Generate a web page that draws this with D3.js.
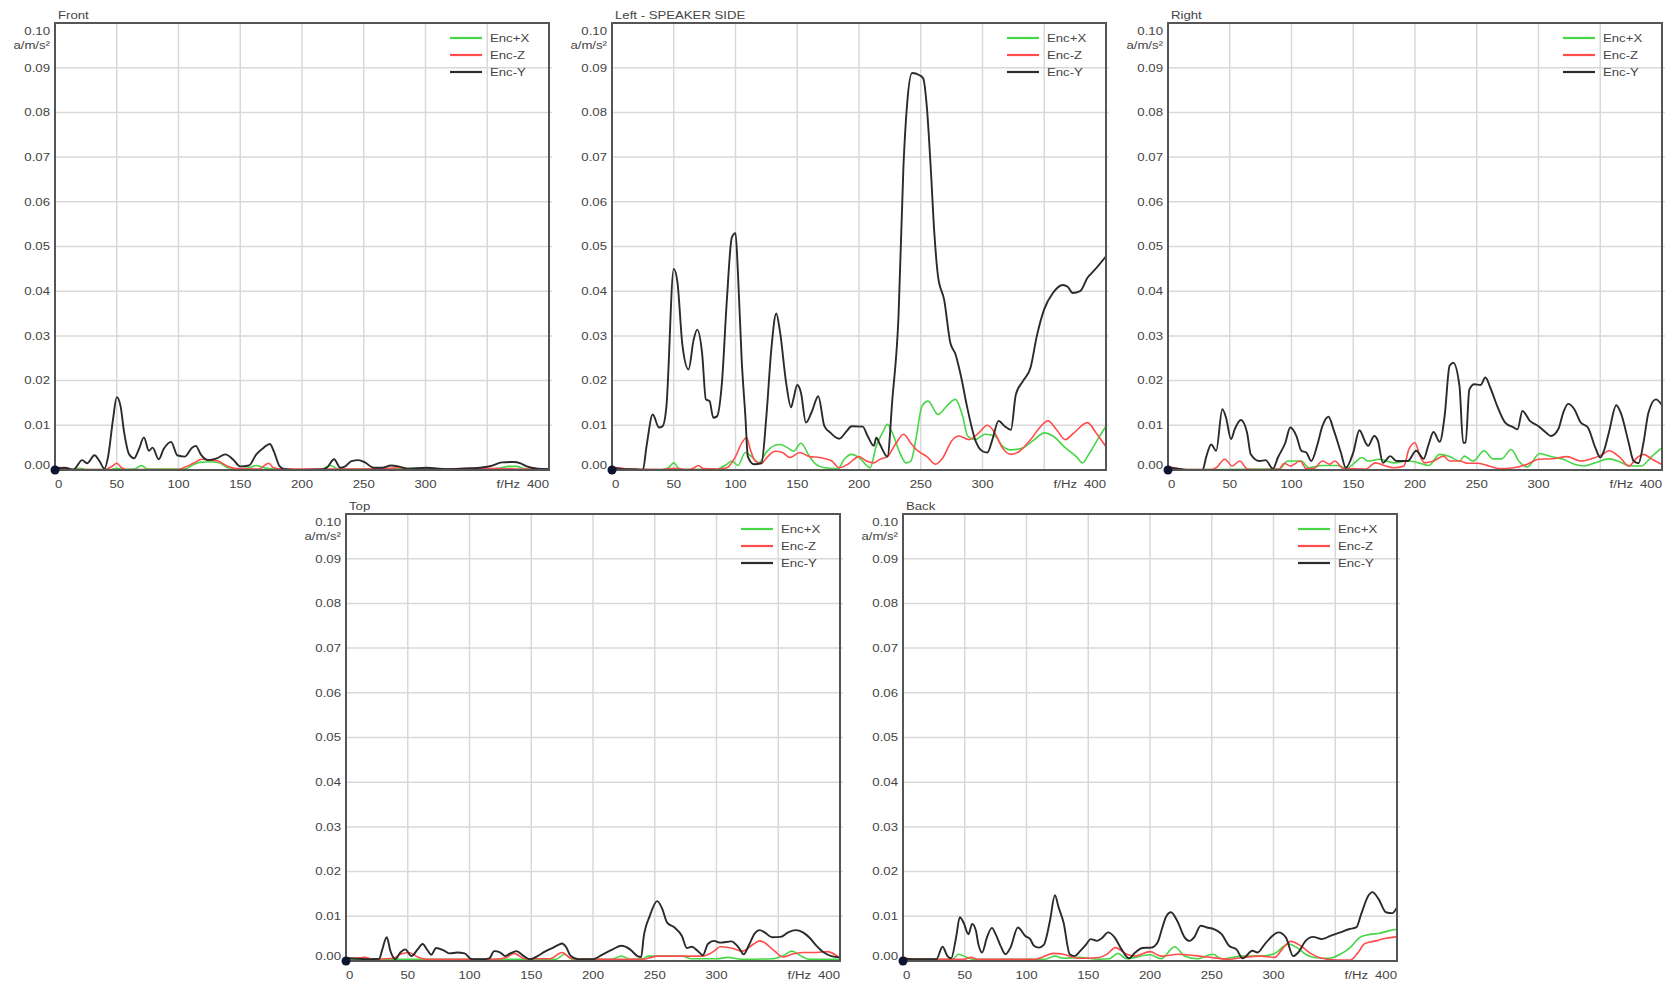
<!DOCTYPE html>
<html>
<head>
<meta charset="utf-8">
<script src="https://cdn.jsdelivr.net/npm/d3@7"></script>
<style>
  body { margin: 0; background: #fff; }
  svg text { font-family: "Liberation Sans", Arial, sans-serif; font-size: 11px; fill: #444; }
</style>
</head>
<body>
<div id="chart"></div>
<script>
// axis values
const xTickLabels = [0, 50, 100, 150, 200, 250, 300]
const xGrid = [50, 100, 150, 200, 250, 300, 350]
const yTicks = [0, 0.01, 0.02, 0.03, 0.04, 0.05, 0.06, 0.07, 0.08, 0.09, 0.10]
const seriesNames = ['Enc+X', 'Enc-Z', 'Enc-Y']
const seriesColors = ['#46d646', '#ff4d4d', '#2b2b2b']

// [f/Hz, a] pairs
const frontX = [[0,0.0002],[15,0.0001],[20,0.0004],[25,0.0001],[45,0.0001],[50,0.0004],[55,0.0001],[64,0.0002],[70,0.001],[75,0.0002],[105,0.0002],[110,0.0009],[117,0.0017],[122,0.0018],[128,0.0018],[134,0.0015],[140,0.0005],[150,0.0003],[157,0.0005],[163,0.001],[169,0.0005],[175,0.0003],[185,0.0001],[215,0.0001],[223,0.001],[230,0.0002],[260,0.0002],[300,0.0003],[340,0.0002],[360,0.0004],[367,0.0008],[374,0.0008],[380,0.0003],[400,0.0002]]
const frontZ = [[0,0.0006],[5,0.0005],[12,0.0001],[40,0.0001],[46,0.0008],[50,0.0015],[54,0.0005],[58,0.0001],[100,0.0001],[104,0.0005],[112,0.0015],[119,0.0024],[127,0.0022],[132,0.002],[140,0.0008],[146,0.0003],[165,0.0002],[173,0.0015],[177,0.0005],[185,0.0002],[195,0.0002],[230,0.0002],[270,0.0004],[280,0.0005],[290,0.0002],[320,0.0002],[335,0.0004],[345,0.0004],[360,0.0003],[380,0.0002],[400,0.0002]]
const frontY = [[0,0.0004],[8,0.0005],[15,0.0001],[22,0.0022],[26,0.0015],[32,0.0033],[36,0.002],[40,0.0003],[43,0.003],[47,0.0114],[50,0.0163],[53,0.0144],[56,0.0084],[60,0.0035],[64,0.0026],[68,0.0047],[72,0.0073],[76,0.0043],[79,0.005],[84,0.0024],[88,0.0047],[94,0.0063],[99,0.0033],[105,0.003],[111,0.005],[114,0.0054],[118,0.0035],[124,0.0022],[131,0.0026],[138,0.0035],[144,0.0024],[150,0.0008],[157,0.001],[163,0.0035],[169,0.005],[174,0.0058],[177,0.0043],[182,0.0008],[186,0.0002],[200,0],[215,0.0001],[220,0.0005],[226,0.0024],[231,0.0005],[235,0.0008],[240,0.002],[246,0.0022],[251,0.0017],[258,0.0005],[265,0.0005],[272,0.001],[278,0.0008],[285,0.0003],[301,0.0005],[316,0.0002],[330,0.0003],[344,0.0005],[353,0.0009],[362,0.0017],[371,0.0018],[377,0.0015],[382,0.0008],[391,0.0003],[400,0.0002]]

const leftX = [[0,0.0003],[10,0.0002],[20,0.0001],[40,0.0001],[46,0.0006],[50,0.0016],[54,0.0004],[60,0.0001],[85,0.0002],[93,0.0013],[97,0.002],[102,0.001],[108,0.0039],[113,0.003],[119,0.0016],[125,0.004],[131,0.0054],[136,0.0057],[142,0.005],[147,0.0042],[153,0.006],[160,0.003],[165,0.0013],[172,0.0005],[183,0.0003],[188,0.0024],[194,0.0035],[200,0.0028],[209,0.0005],[214,0.0054],[219,0.0083],[223,0.0102],[227,0.0083],[233,0.0039],[238,0.0016],[242,0.002],[246,0.0068],[251,0.0143],[256,0.0154],[264,0.0124],[271,0.0143],[278,0.0158],[284,0.012],[288,0.0076],[294,0.0068],[302,0.008],[310,0.0076],[316,0.0054],[323,0.0045],[333,0.005],[342,0.0068],[350,0.0083],[357,0.0076],[367,0.005],[376,0.003],[381,0.0016],[386,0.0035],[394,0.0072],[400,0.0098]]
const leftZ = [[0,0.0006],[5,0.0005],[12,0.0002],[40,0.0001],[50,0.0004],[60,0.0001],[66,0.0004],[70,0.001],[74,0.0003],[85,0.0002],[93,0.0005],[100,0.003],[105,0.006],[109,0.0072],[112,0.0046],[116,0.002],[121,0.0015],[126,0.003],[132,0.0042],[138,0.0039],[144,0.0028],[152,0.0039],[160,0.003],[168,0.0028],[178,0.002],[184,0.0005],[191,0.0013],[200,0.003],[206,0.002],[212,0.0016],[217,0.0024],[223,0.003],[230,0.006],[236,0.008],[242,0.006],[248,0.0042],[255,0.003],[262,0.0013],[268,0.0028],[275,0.0065],[281,0.0076],[289,0.0068],[297,0.0083],[304,0.01],[310,0.0083],[316,0.005],[323,0.0035],[330,0.0042],[339,0.0068],[346,0.0094],[353,0.011],[360,0.009],[367,0.0068],[374,0.0083],[385,0.0106],[392,0.0083],[400,0.0052]]
const leftY = [[0,0.0004],[10,0.0002],[20,0.0001],[25,0],[28,0.0054],[33,0.0124],[38,0.0095],[41,0.0098],[44,0.014],[50,0.045],[53,0.042],[57,0.028],[62,0.0225],[66,0.029],[69,0.0314],[73,0.026],[76,0.0158],[79,0.0154],[82,0.0117],[85,0.012],[89,0.0195],[93,0.038],[97,0.052],[100,0.053],[102,0.044],[105,0.0247],[108,0.012],[110,0.003],[115,0.0013],[121,0.0015],[125,0.012],[129,0.027],[133,0.035],[136,0.031],[141,0.0195],[145,0.014],[147,0.016],[150,0.019],[153,0.0173],[157,0.0106],[162,0.0132],[167,0.0165],[172,0.0098],[177,0.0083],[184,0.007],[190,0.0087],[194,0.0098],[203,0.0097],[207,0.0076],[212,0.0054],[214,0.0072],[217,0.0057],[223,0.003],[227,0.0158],[232,0.0344],[236,0.068],[239,0.082],[243,0.0888],[249,0.0883],[252,0.0876],[255,0.081],[258,0.068],[261,0.053],[264,0.0433],[269,0.038],[274,0.0284],[278,0.026],[282,0.0217],[288,0.0135],[294,0.0068],[300,0.0042],[304,0.0039],[308,0.0068],[313,0.011],[318,0.0098],[323,0.009],[327,0.0169],[333,0.02],[339,0.023],[344,0.03],[350,0.036],[357,0.0396],[365,0.0414],[369,0.041],[373,0.0396],[379,0.04],[385,0.043],[391,0.0448],[400,0.0478]]

const rightX = [[0,0.0002],[20,0.0001],[90,0.0002],[97,0.002],[102,0.002],[108,0.002],[114,0.0005],[125,0.001],[137,0.001],[145,0.0004],[151,0.0016],[157,0.0028],[162,0.002],[171,0.0024],[183,0.0016],[194,0.002],[203,0.0016],[211,0.001],[220,0.0035],[228,0.003],[236,0.002],[240,0.0031],[247,0.002],[256,0.0043],[263,0.0025],[270,0.0025],[278,0.0046],[284,0.002],[291,0.0007],[301,0.0037],[310,0.003],[320,0.0024],[329,0.0013],[337,0.0009],[346,0.0016],[357,0.0025],[366,0.0018],[374,0.0009],[383,0.0009],[392,0.0031],[400,0.005]]
const rightZ = [[0,0.0007],[5,0.0005],[12,0.0001],[35,0.0001],[39,0.0005],[46,0.0024],[52,0.0009],[58,0.002],[64,0.0003],[70,0.0001],[90,0.0002],[94,0.0015],[99,0.0009],[107,0.002],[112,0.0003],[118,0.0003],[125,0.002],[131,0.0013],[135,0.002],[142,0.0003],[160,0.0002],[168,0.0016],[175,0.001],[183,0.0005],[191,0.0009],[195,0.0046],[200,0.0061],[204,0.0031],[208,0.0016],[215,0.002],[223,0.0031],[228,0.002],[236,0.002],[243,0.0015],[251,0.0015],[260,0.0009],[268,0.0003],[280,0.0005],[291,0.0013],[300,0.0024],[311,0.0025],[323,0.003],[334,0.002],[343,0.0025],[352,0.0035],[357,0.0043],[366,0.0028],[373,0.0009],[380,0.0028],[385,0.0035],[392,0.0024],[400,0.0012]]
const rightY = [[0,0.0005],[8,0.0003],[15,0],[28,0],[31,0.003],[35,0.0057],[39,0.0043],[44,0.0136],[47,0.0117],[51,0.0069],[54,0.0091],[59,0.0112],[64,0.0084],[67,0.0035],[74,0.002],[79,0.0022],[85,0.0003],[89,0.0028],[95,0.0061],[99,0.0095],[104,0.0076],[108,0.0043],[112,0.0039],[116,0.002],[121,0.0057],[125,0.0098],[130,0.0119],[134,0.0091],[140,0.0039],[144,0.0005],[150,0.0039],[155,0.0089],[160,0.0061],[162,0.0054],[167,0.0076],[170,0.0065],[174,0.0016],[180,0.0031],[185,0.002],[194,0.002],[201,0.0043],[207,0.0025],[211,0.0057],[215,0.0085],[220,0.0063],[224,0.0121],[228,0.0233],[231,0.024],[236,0.0188],[239,0.0061],[241,0.0061],[244,0.018],[248,0.0192],[253,0.019],[257,0.0207],[261,0.0184],[267,0.014],[273,0.0106],[280,0.0095],[283,0.0091],[287,0.0132],[293,0.011],[300,0.0098],[306,0.0084],[310,0.0076],[316,0.0091],[320,0.0128],[324,0.0148],[329,0.0136],[334,0.0107],[340,0.0095],[346,0.005],[350,0.0028],[353,0.0043],[357,0.0084],[363,0.0145],[367,0.0125],[373,0.0061],[377,0.002],[381,0.0015],[385,0.0061],[389,0.0128],[395,0.0158],[400,0.0145]]

const topX = [[0,0.0004],[170,0.0004],[177,0.0015],[183,0.0004],[215,0.0004],[223,0.0011],[230,0.0004],[240,0.0005],[245,0.0011],[272,0.0011],[280,0.0005],[300,0.0005],[309,0.0008],[320,0.0004],[345,0.0005],[354,0.0012],[361,0.0022],[368,0.0012],[375,0.0004],[400,0.0004]]
const topZ = [[0,0.0008],[8,0.0006],[15,0.0008],[22,0.0004],[38,0.0006],[44,0.0015],[51,0.0019],[58,0.0009],[65,0.0004],[120,0.0004],[130,0.0008],[136,0.0017],[145,0.0005],[165,0.0005],[175,0.0019],[182,0.0006],[190,0.0004],[240,0.0004],[252,0.0011],[272,0.0011],[289,0.0011],[298,0.0022],[303,0.0032],[312,0.0029],[321,0.0022],[330,0.0038],[335,0.0045],[339,0.0041],[347,0.0022],[354,0.0009],[361,0.0015],[370,0.0019],[381,0.0019],[390,0.0021],[400,0.0006]]
const topY = [[0,0.0006],[10,0.0005],[20,0.0004],[27,0.0005],[29,0.0022],[33,0.0053],[36,0.0022],[40,0.0004],[44,0.0019],[48,0.0026],[53,0.0011],[58,0.0026],[62,0.0038],[66,0.0024],[69,0.0014],[73,0.0029],[79,0.0024],[84,0.0017],[90,0.0019],[96,0.0017],[102,0.0004],[110,0.0004],[116,0.0006],[120,0.0022],[125,0.0019],[129,0.0011],[133,0.0017],[138,0.0022],[144,0.0011],[149,0.0004],[155,0.0011],[161,0.0021],[167,0.0029],[172,0.0036],[175,0.0039],[178,0.0032],[182,0.0011],[188,0.0004],[200,0.0004],[208,0.0015],[216,0.0026],[223,0.0034],[230,0.0026],[236,0.0011],[239,0.0009],[241,0.0053],[246,0.0101],[252,0.0134],[256,0.0117],[260,0.0086],[266,0.0075],[272,0.0056],[276,0.0029],[280,0.0032],[285,0.0022],[289,0.0013],[293,0.0038],[298,0.0045],[303,0.0041],[312,0.0044],[318,0.003],[322,0.0015],[326,0.0034],[331,0.0062],[335,0.0069],[339,0.0064],[345,0.0053],[352,0.0054],[358,0.0064],[364,0.0069],[370,0.0064],[375,0.0053],[381,0.0034],[387,0.0019],[393,0.0011],[400,0.0008]]

const backX = [[0,0.0004],[40,0.0004],[45,0.0015],[51,0.0009],[56,0.0004],[115,0.0004],[123,0.0011],[130,0.0006],[142,0.0008],[159,0.0004],[167,0.0005],[174,0.0017],[181,0.0005],[200,0.0014],[209,0.0005],[220,0.0032],[228,0.0011],[238,0.0005],[251,0.0015],[258,0.0005],[275,0.0011],[290,0.0011],[301,0.0017],[312,0.0038],[319,0.003],[326,0.0015],[333,0.0008],[345,0.0006],[354,0.0015],[362,0.003],[370,0.0053],[377,0.0059],[386,0.0062],[394,0.0068],[400,0.0071]]
const backZ = [[0,0.0009],[8,0.0004],[50,0.0004],[55,0.0008],[60,0.0004],[107,0.0004],[122,0.0017],[130,0.0015],[142,0.0006],[159,0.0008],[165,0.0015],[172,0.003],[180,0.0017],[188,0.0011],[200,0.0021],[209,0.0011],[223,0.0015],[246,0.0009],[264,0.0004],[275,0.0008],[290,0.0011],[301,0.0008],[307,0.0026],[314,0.0044],[322,0.0034],[330,0.0017],[339,0.0006],[351,0.0002],[362,0.0002],[368,0.0017],[374,0.0039],[383,0.0045],[391,0.0051],[400,0.0054]]
const backY = [[0,0.0005],[10,0.0004],[27,0.0004],[32,0.0032],[36,0.0011],[39,0.0006],[43,0.0053],[46,0.0098],[49,0.0086],[53,0.006],[56,0.0083],[59,0.0068],[61,0.0038],[64,0.0019],[68,0.0053],[72,0.0074],[75,0.006],[79,0.0034],[83,0.0015],[87,0.003],[93,0.0075],[99,0.0056],[103,0.0049],[106,0.0034],[110,0.003],[114,0.0036],[119,0.009],[123,0.0147],[126,0.012],[130,0.0086],[135,0.0015],[139,0.0011],[143,0.0021],[148,0.0036],[152,0.0049],[157,0.0045],[161,0.0051],[166,0.0064],[171,0.0054],[177,0.0026],[183,0.0006],[188,0.0019],[194,0.0029],[201,0.003],[206,0.0041],[210,0.0075],[213,0.0099],[217,0.0109],[222,0.009],[228,0.0053],[232,0.0045],[236,0.0054],[241,0.0079],[246,0.0075],[252,0.0071],[258,0.006],[264,0.0034],[270,0.0026],[275,0.0006],[283,0.0023],[287,0.0019],[293,0.0038],[299,0.0056],[304,0.0064],[310,0.0053],[316,0.0011],[320,0.0019],[326,0.0045],[332,0.0054],[339,0.0049],[346,0.0056],[354,0.0064],[361,0.0071],[367,0.0075],[371,0.0105],[377,0.0147],[380,0.0154],[385,0.0139],[391,0.0109],[396,0.0107],[400,0.012]]

const panelTitles = ['Front', 'Left - SPEAKER SIDE', 'Right', 'Top', 'Back']
const panelSeries = [
    [frontX, frontZ, frontY],
    [leftX, leftZ, leftY],
    [rightX, rightZ, rightY],
    [topX, topZ, topY],
    [backX, backZ, backY]
]

// layout
const width = 1667
const height = 984
const panelW = 494
const panelH = 447
const panelPos = [[55, 23], [612, 23], [1168, 23], [346, 514], [903, 514]]
const textStretch = 1.2

const xScale = d3.scaleLinear().domain([0, 400]).range([0, panelW])
const yScale = d3.scaleLinear().domain([0, 0.1]).range([panelH, 0])

const lineGen = d3.line()
    .x(d => xScale(d[0]))
    .y(d => yScale(d[1]))
    .curve(d3.curveMonotoneX)

const svg = d3.select('#chart').append('svg')
    .attr('width', width)
    .attr('height', height)

// text is a bit wide in the original, so stretch it horizontally
function label(g, x, y, str, anchor) {
    return g.append('text')
        .attr('transform', 'translate(' + x + ',' + y + ') scale(' + textStretch + ',1)')
        .attr('text-anchor', anchor || 'start')
        .attr('dy', '0.35em')
        .text(str)
}

panelTitles.forEach((title, p) => {
    const g = svg.append('g')
        .attr('transform', 'translate(' + panelPos[p][0] + ',' + panelPos[p][1] + ')')

    g.append('clipPath').attr('id', 'clip' + p)
        .append('rect').attr('width', panelW).attr('height', panelH)

    // gridlines
    g.selectAll('.vgrid').data(xGrid).enter().append('line')
        .attr('x1', d => xScale(d)).attr('x2', d => xScale(d))
        .attr('y1', 0).attr('y2', panelH)
        .attr('stroke', '#d9d9d9').attr('stroke-width', 1.5)
    g.selectAll('.hgrid').data(yTicks.slice(1, -1)).enter().append('line')
        .attr('x1', 0).attr('x2', panelW + 3)
        .attr('y1', d => yScale(d)).attr('y2', d => yScale(d))
        .attr('stroke', '#d9d9d9').attr('stroke-width', 1.5)

    // y labels
    yTicks.forEach(v => {
        let y = yScale(v)
        if (v === 0.1) y += 8
        if (v === 0) y -= 5
        label(g, -5, y, d3.format('.2f')(v), 'end')
    })
    label(g, -5, 22, 'a/m/s²', 'end')

    // x labels
    xTickLabels.forEach(v => {
        label(g, xScale(v), panelH + 14, v, v === 0 ? 'start' : 'middle')
    })
    label(g, panelW - 29, panelH + 14, 'f/Hz', 'end')
    label(g, panelW, panelH + 14, '400', 'end')

    label(g, 3, -8, title, 'start')

    // series
    const plot = g.append('g').attr('clip-path', 'url(#clip' + p + ')')
    panelSeries[p].forEach((s, i) => {
        plot.append('path')
            .datum(s)
            .attr('d', lineGen)
            .attr('fill', 'none')
            .attr('stroke', seriesColors[i])
            .attr('stroke-width', i === 2 ? 1.9 : 1.6)
            .attr('stroke-linejoin', 'round')
    })

    // frame
    g.append('rect')
        .attr('width', panelW).attr('height', panelH)
        .attr('fill', 'none').attr('stroke', '#555').attr('stroke-width', 2)

    // legend
    seriesNames.forEach((name, i) => {
        const ly = 15 + 17 * i
        g.append('line')
            .attr('x1', panelW - 99).attr('x2', panelW - 67)
            .attr('y1', ly).attr('y2', ly)
            .attr('stroke', seriesColors[i]).attr('stroke-width', 2.2)
        label(g, panelW - 59, ly, name, 'start')
    })

    g.append('circle')
        .attr('cx', xScale(0)).attr('cy', yScale(0)).attr('r', 4.5)
        .attr('fill', '#0d1530')
})
</script>
</body>
</html>
